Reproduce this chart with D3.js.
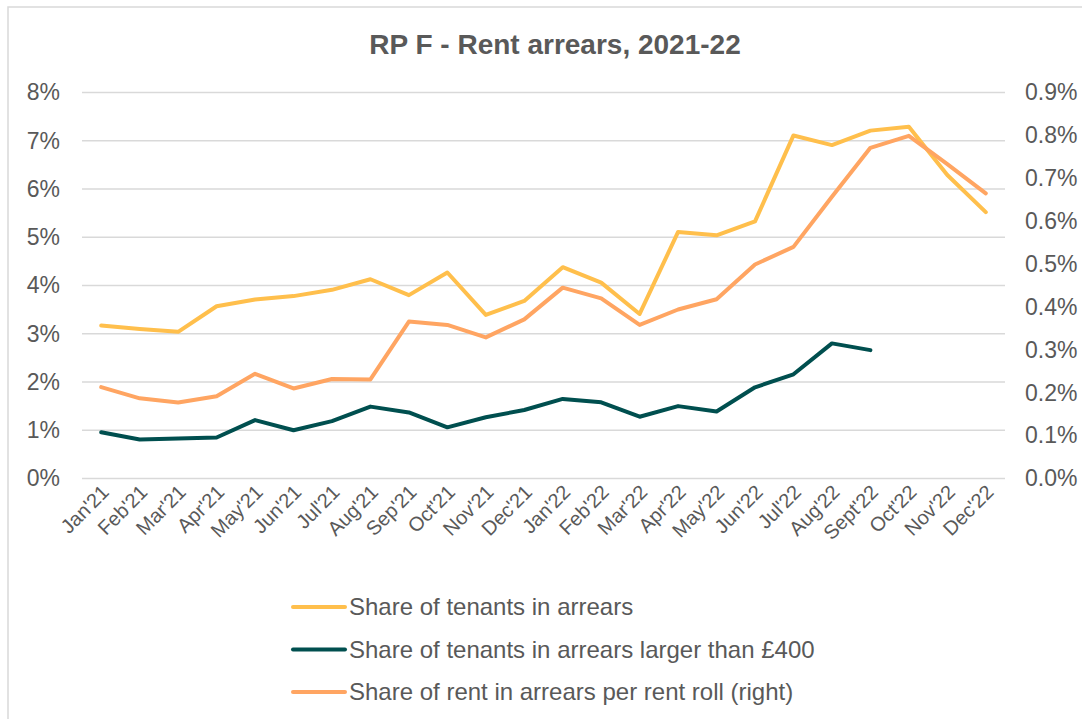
<!DOCTYPE html>
<html>
<head>
<meta charset="utf-8">
<script src="https://cdn.jsdelivr.net/npm/d3@7"></script>
<style>
  body { margin: 0; background: #fff; }
  text { font-family: "Liberation Sans", Arial, sans-serif; fill: #595959; }
</style>
</head>
<body>
<svg id="chart" width="1082" height="719"></svg>
<script>
// months on the x axis
var months = ["Jan'21","Feb'21","Mar'21","Apr'21","May'21","Jun'21","Jul'21","Aug'21","Sep'21","Oct'21","Nov'21","Dec'21",
  "Jan'22","Feb'22","Mar'22","Apr'22","May'22","Jun'22","Jul'22","Aug'22","Sept'22","Oct'22","Nov'22","Dec'22"];

// left axis, %
var tenantsArrears = [3.17,3.10,3.04,3.57,3.71,3.78,3.91,4.13,3.80,4.27,3.39,3.68,
  4.38,4.06,3.41,5.11,5.04,5.33,7.11,6.91,7.21,7.29,6.29,5.52];
var tenantsOver400 = [0.96,0.81,0.83,0.85,1.21,1.00,1.19,1.49,1.37,1.06,1.27,1.42,
  1.65,1.58,1.28,1.50,1.39,1.89,2.16,2.80,2.66,null,null,null];
// right axis, %
var rentPerRoll = [0.213,0.187,0.177,0.192,0.244,0.210,0.232,0.231,0.366,0.358,0.329,0.371,
  0.445,0.420,0.358,0.394,0.418,0.499,0.540,0.657,0.771,0.799,0.733,0.665];

var leftTicks = [0,1,2,3,4,5,6,7,8];
var rightTicks = [0,0.1,0.2,0.3,0.4,0.5,0.6,0.7,0.8,0.9];

var series = [
  {name: "Share of tenants in arrears", values: tenantsArrears, color: "#FFBF4C", axis: "left"},
  {name: "Share of tenants in arrears larger than £400", values: tenantsOver400, color: "#004F4F", axis: "left"},
  {name: "Share of rent in arrears per rent roll (right)", values: rentPerRoll, color: "#FFA562", axis: "right"}
];

var margin = {top: 92.5, left: 82, right: 77, bottom: 240.5};
var width = 1082 - margin.left - margin.right;
var height = 719 - margin.top - margin.bottom;

var svg = d3.select("#chart");

// outer frame
svg.append("rect")
  .attr("x", 8).attr("y", 7)
  .attr("width", 1090).attr("height", 730)
  .attr("fill", "none")
  .attr("stroke", "#D9D9D9")
  .attr("stroke-width", 1.5);

svg.append("text")
  .attr("x", 555).attr("y", 54)
  .attr("text-anchor", "middle")
  .style("font-size", "28px")
  .style("font-weight", "bold")
  .text("RP F - Rent arrears, 2021-22");

var g = svg.append("g").attr("transform", `translate(${margin.left},${margin.top})`);

var x = d3.scaleBand().domain(months).range([0, width]);
var yL = d3.scaleLinear().domain([0, 8]).range([height, 0]);
var yR = d3.scaleLinear().domain([0, 0.9]).range([height, 0]);

// gridlines
g.append("g")
  .selectAll("line")
  .data(leftTicks)
  .join("line")
    .attr("x1", 0).attr("x2", width)
    .attr("y1", d => yL(d)).attr("y2", d => yL(d))
    .attr("stroke", "#D9D9D9")
    .attr("stroke-width", 1.5);

// left axis labels
var axL = g.append("g")
  .call(d3.axisLeft(yL).tickValues(leftTicks).tickFormat(d => d + "%").tickSize(0).tickPadding(22));
axL.select(".domain").remove();
axL.selectAll("text").style("font-size", "23px").attr("fill", "#595959");

// right axis labels
var axR = g.append("g")
  .attr("transform", `translate(${width},0)`)
  .call(d3.axisRight(yR).tickValues(rightTicks).tickFormat(d => d.toFixed(1) + "%").tickSize(0).tickPadding(20));
axR.select(".domain").remove();
axR.selectAll("text").style("font-size", "23px").attr("fill", "#595959");

// x axis labels
var axX = g.append("g")
  .attr("transform", `translate(0,${height})`)
  .call(d3.axisBottom(x).tickSize(0).tickPadding(0));
axX.select(".domain").remove();
axX.selectAll("text")
  .style("font-size", "20px")
  .attr("fill", "#595959")
  .attr("text-anchor", "end")
  .attr("dy", null)
  .attr("transform", "translate(9,15) rotate(-45)");

// lines
series.forEach(s => {
  var y = s.axis === "left" ? yL : yR;
  var line = d3.line()
    .defined(d => d != null)
    .x((d, i) => x(months[i]) + x.bandwidth() / 2)
    .y(d => y(d));
  g.append("path")
    .datum(s.values)
    .attr("fill", "none")
    .attr("stroke", s.color)
    .attr("stroke-width", 4)
    .attr("stroke-linejoin", "round")
    .attr("stroke-linecap", "round")
    .attr("d", line);
});

// legend
var legend = svg.append("g").attr("transform", "translate(293,607)");
var item = legend.selectAll("g")
  .data(series)
  .join("g")
    .attr("transform", (d, i) => `translate(0,${i * 42.5})`);
item.append("line")
  .attr("x1", 0).attr("x2", 52)
  .attr("stroke", d => d.color)
  .attr("stroke-width", 4)
  .attr("stroke-linecap", "round");
item.append("text")
  .attr("x", 56).attr("dy", "0.35em")
  .style("font-size", "24px")
  .text(d => d.name);
</script>
</body>
</html>
